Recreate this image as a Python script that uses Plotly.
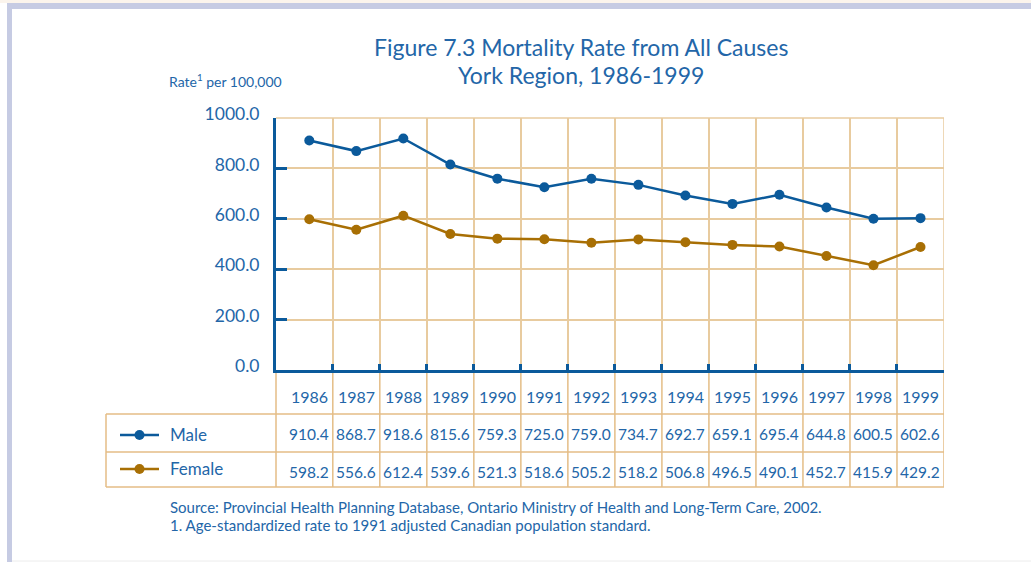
import plotly.graph_objects as go

# ---------------- data ----------------
years = ["1986", "1987", "1988", "1989", "1990", "1991", "1992",
         "1993", "1994", "1995", "1996", "1997", "1998", "1999"]
male_rate = [910.4, 868.7, 918.6, 815.6, 759.3, 725.0, 759.0,
             734.7, 692.7, 659.1, 695.4, 644.8, 600.5, 602.6]
female_rate = [598.2, 556.6, 612.4, 539.6, 521.3, 518.6, 505.2,
               518.2, 506.8, 496.5, 490.1, 452.7, 415.9, 429.2]
# the plotted female line as drawn in the picture (last point drawn near 488)
female_plotted = [598.2, 556.6, 612.4, 539.6, 521.3, 518.6, 505.2,
                  518.2, 506.8, 496.5, 490.1, 452.7, 415.9, 488.0]
y_ticks = [0, 200, 400, 600, 800, 1000]
y_tick_labels = ["0.0", "200.0", "400.0", "600.0", "800.0", "1000.0"]

# ---------------- style ----------------
W, H = 1031, 562
L, R, T, B = 276, 944, 118, 370          # plot area in pixels
BLUE = "#0b5a9b"
TXT = "#2366a8"
BROWN = "#a86f04"
GRID = "#e8cb9f"
TBL = "#e4bd86"
LAV = "#c6cbe3"
FONT = "Lato"

def fx(x):
    return (x - L) / (R - L)

def fy(y):
    return (B - y) / (B - T)

n = len(years)
xi = list(range(n))
bounds = [i + 0.5 for i in range(n)]      # category boundaries (last = right edge)

fig = go.Figure()
fig.add_trace(go.Scatter(x=xi, y=male_rate, mode="lines+markers", name="Male",
                         line=dict(color=BLUE, width=2.5),
                         marker=dict(color=BLUE, size=10), cliponaxis=False))
fig.add_trace(go.Scatter(x=xi, y=female_plotted, mode="lines+markers", name="Female",
                         line=dict(color=BROWN, width=2.5),
                         marker=dict(color=BROWN, size=10), cliponaxis=False))

shapes = []
# frame decoration
shapes.append(dict(type="rect", xref="paper", yref="paper", x0=fx(0), x1=fx(W), y0=fy(3), y1=fy(0),
                   fillcolor="#fbf4ec", line=dict(width=0), layer="below"))
shapes.append(dict(type="rect", xref="paper", yref="paper", x0=fx(7), x1=fx(W), y0=fy(9), y1=fy(3),
                   fillcolor=LAV, line=dict(width=0), layer="below"))
shapes.append(dict(type="rect", xref="paper", yref="paper", x0=fx(7), x1=fx(12), y0=fy(H), y1=fy(3),
                   fillcolor=LAV, line=dict(width=0), layer="below"))
shapes.append(dict(type="line", xref="paper", yref="paper", x0=fx(12), x1=fx(W), y0=fy(561), y1=fy(561),
                   line=dict(color="#ececec", width=1), layer="below"))

# top and right border of plot area
shapes.append(dict(type="line", xref="paper", yref="paper", x0=0, x1=1, y0=1, y1=1,
                   line=dict(color=GRID, width=1.5), layer="below"))
# vertical lines continuing through the table
row_top, row1, row2, row_bot = 370, 414, 452, 487
for b in bounds:
    shapes.append(dict(type="line", xref="x", yref="paper", x0=b, x1=b, y0=fy(row_bot), y1=0,
                       line=dict(color=TBL, width=1.5), layer="below"))
shapes.append(dict(type="line", xref="x", yref="paper", x0=bounds[-1], x1=bounds[-1], y0=0, y1=1,
                   line=dict(color=GRID, width=1.5), layer="below"))
shapes.append(dict(type="line", xref="paper", yref="paper", x0=0, x1=0, y0=fy(row_bot), y1=0,
                   line=dict(color=TBL, width=1.5), layer="below"))
shapes.append(dict(type="line", xref="paper", yref="paper", x0=fx(106), x1=fx(106), y0=fy(row_bot), y1=fy(row1),
                   line=dict(color=TBL, width=1.5), layer="below"))
for yy in (row1, row2, row_bot):
    shapes.append(dict(type="line", xref="paper", yref="paper", x0=fx(106), x1=1, y0=fy(yy), y1=fy(yy),
                       line=dict(color=TBL, width=1.5), layer="below"))

# legend keys inside the table
for yy, col in ((435, BLUE), (469, BROWN)):
    shapes.append(dict(type="line", xref="paper", yref="paper", x0=fx(120), x1=fx(159), y0=fy(yy), y1=fy(yy),
                       line=dict(color=col, width=2.5)))
    shapes.append(dict(type="circle", xref="paper", yref="paper", xsizemode="pixel", ysizemode="pixel",
                       xanchor=fx(139.5), yanchor=fy(yy), x0=-5, x1=5, y0=-5, y1=5,
                       fillcolor=col, line=dict(color=col, width=0)))

ann = []
ann.append(dict(text="Figure 7.3 Mortality Rate from All Causes", xref="paper", yref="paper",
                x=fx(581), y=fy(47), showarrow=False, xanchor="center", yanchor="middle",
                font=dict(family=FONT, size=23, color=TXT)))
ann.append(dict(text="York Region, 1986-1999", xref="paper", yref="paper",
                x=fx(581), y=fy(75), showarrow=False, xanchor="center", yanchor="middle",
                font=dict(family=FONT, size=23, color=TXT)))
ann.append(dict(text="Rate<sup>1</sup> per 100,000", xref="paper", yref="paper",
                x=fx(167), y=fy(80), showarrow=False, xanchor="left", yanchor="middle",
                font=dict(family=FONT, size=14, color=TXT)))

for i in xi:
    ann.append(dict(text=years[i], xref="x", yref="paper", x=i, y=fy(396), showarrow=False,
                    xanchor="center", yanchor="middle", font=dict(family=FONT, size=16, color=TXT)))
    ann.append(dict(text=f"{male_rate[i]:.1f}", xref="x", yref="paper", x=i, y=fy(434), showarrow=False,
                    xanchor="center", yanchor="middle", font=dict(family=FONT, size=15.5, color=TXT)))
    ann.append(dict(text=f"{female_rate[i]:.1f}", xref="x", yref="paper", x=i, y=fy(472), showarrow=False,
                    xanchor="center", yanchor="middle", font=dict(family=FONT, size=15.5, color=TXT)))

ann.append(dict(text="Male", xref="paper", yref="paper", x=fx(168), y=fy(434), showarrow=False,
                xanchor="left", yanchor="middle", font=dict(family=FONT, size=17, color=TXT)))
ann.append(dict(text="Female", xref="paper", yref="paper", x=fx(168), y=fy(468), showarrow=False,
                xanchor="left", yanchor="middle", font=dict(family=FONT, size=17, color=TXT)))

ann.append(dict(text="Source: Provincial Health Planning Database, Ontario Ministry of Health and Long-Term Care, 2002.",
                xref="paper", yref="paper", x=fx(168), y=fy(507), showarrow=False,
                xanchor="left", yanchor="middle", font=dict(family=FONT, size=15, color=TXT)))
ann.append(dict(text="1. Age-standardized rate to 1991 adjusted Canadian population standard.",
                xref="paper", yref="paper", x=fx(168), y=fy(525), showarrow=False,
                xanchor="left", yanchor="middle", font=dict(family=FONT, size=15, color=TXT)))

fig.update_layout(
    width=W, height=H,
    margin=dict(l=L, r=W - R, t=T, b=H - B, pad=0),
    paper_bgcolor="white", plot_bgcolor="white",
    showlegend=False,
    shapes=shapes, annotations=ann,
    xaxis=dict(range=[-0.708, 13.5], tickvals=bounds, showticklabels=False,
               ticks="inside", ticklen=6, tickwidth=3, tickcolor=BLUE,
               showline=True, linecolor=BLUE, linewidth=3,
               showgrid=True, gridcolor=GRID, gridwidth=1.5, zeroline=False, fixedrange=True),
    yaxis=dict(range=[0, 1000], tickvals=y_ticks, ticktext=y_tick_labels,
               ticks="inside", ticklen=11, tickwidth=3, tickcolor=BLUE,
               showline=True, linecolor=BLUE, linewidth=3,
               showgrid=True, gridcolor=GRID, gridwidth=1.5, zeroline=False,
               tickfont=dict(family=FONT, size=17.5, color=TXT), ticklabelstandoff=10,
               ticklabelshift=-4, fixedrange=True),
)

fig.write_html("out.html", config={"displayModeBar": False},
               post_script="document.body.style.margin='0';")
